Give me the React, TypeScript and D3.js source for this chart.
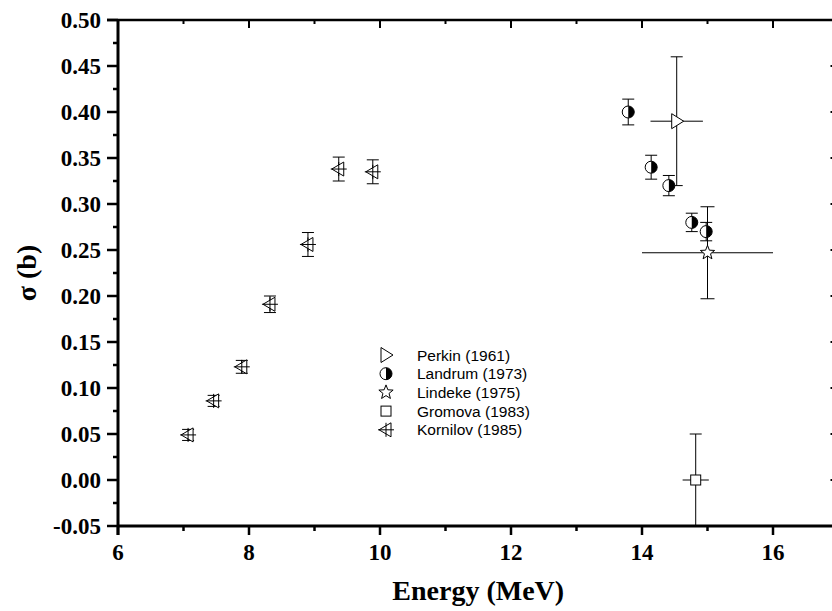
import React from "react";
import * as d3 from "d3";

const xTicks = [6, 8, 10, 12, 14, 16];
const yTicks = [-0.05, 0, 0.05, 0.1, 0.15, 0.2, 0.25, 0.3, 0.35, 0.4, 0.45, 0.5];

const kornilovE = [7.07, 7.46, 7.89, 8.32, 8.9, 9.37, 9.89];
const kornilovS = [0.049, 0.086, 0.123, 0.191, 0.256, 0.338, 0.335];
const kornilovErr = [0.006, 0.006, 0.007, 0.009, 0.013, 0.013, 0.013];

const landrumE = [13.79, 14.14, 14.41, 14.76, 14.98];
const landrumS = [0.4, 0.34, 0.32, 0.28, 0.27];
const landrumErr = [0.014, 0.013, 0.011, 0.01, 0.01];

const perkinE = [14.53];
const perkinS = [0.39];
const perkinErrE = [0.4];
const perkinErrS = [0.07];

const lindekeE = [15.0];
const lindekeS = [0.247];
const lindekeErrE = [1.0];
const lindekeErrS = [0.05];

const gromovaE = [14.82];
const gromovaS = [0.0];
const gromovaErrE = [0.2];
const gromovaErrS = [0.05];

const legendLabels = ["Perkin (1961)", "Landrum (1973)", "Lindeke (1975)", "Gromova (1983)", "Kornilov (1985)"];

const W = 832;
const H = 611;
const x = d3.scaleLinear().domain([6, 17]).range([118, 838.5]);
const y = d3.scaleLinear().domain([-0.05, 0.5]).range([526, 20]);

const serif = "'Liberation Serif', 'Times New Roman', serif";
const sans = "'Liberation Sans', Arial, sans-serif";

function starPath(cx: number, cy: number, R: number, r: number) {
  const pts: string[] = [];
  for (let i = 0; i < 10; i++) {
    const a = -Math.PI / 2 + (i * Math.PI) / 5;
    const rad = i % 2 === 0 ? R : r;
    pts.push(`${cx + rad * Math.cos(a)},${cy + rad * Math.sin(a)}`);
  }
  return "M" + pts.join("L") + "Z";
}

function Marker({ kind, cx, cy }: { kind: string; cx: number; cy: number }) {
  const st = { stroke: "#000", strokeWidth: 1, fill: "#fff" };
  if (kind === "perkin") {
    return <path d={`M${cx - 5},${cy - 7.5}L${cx + 7},${cy}L${cx - 5},${cy + 7.5}Z`} {...st} />;
  }
  if (kind === "landrum") {
    const r = 6;
    return (
      <g>
        <circle cx={cx} cy={cy} r={r} {...st} />
        <path d={`M${cx},${cy - r}A${r},${r} 0 0 1 ${cx},${cy + r}Z`} fill="#000" />
      </g>
    );
  }
  if (kind === "lindeke") {
    return <path d={starPath(cx, cy, 7.5, 3.2)} {...st} />;
  }
  if (kind === "gromova") {
    return <rect x={cx - 5} y={cy - 5} width={10} height={10} {...st} />;
  }
  // kornilov
  return (
    <g>
      <path d={`M${cx - 7},${cy}L${cx + 5},${cy - 7}L${cx + 5},${cy + 7}Z`} {...st} />
      <line x1={cx - 8} x2={cx + 8} y1={cy} y2={cy} stroke="#000" strokeWidth={1} />
      <line x1={cx} x2={cx} y1={cy - 7} y2={cy + 7} stroke="#000" strokeWidth={1} />
    </g>
  );
}

function VErr({ e, s, d, cap = 6 }: { e: number; s: number; d: number; cap?: number }) {
  const cx = x(e);
  const y1 = y(Math.min(0.5, s + d));
  const y2 = y(Math.max(-0.05, s - d));
  return (
    <g stroke="#000" strokeWidth={1}>
      <line x1={cx} x2={cx} y1={y1} y2={y2} />
      <line x1={cx - cap} x2={cx + cap} y1={y1} y2={y1} />
      {s - d > -0.05 && <line x1={cx - cap} x2={cx + cap} y1={y2} y2={y2} />}
    </g>
  );
}

function HErr({ e, s, d }: { e: number; s: number; d: number }) {
  return <line x1={x(e - d)} x2={x(e + d)} y1={y(s)} y2={y(s)} stroke="#000" strokeWidth={1} />;
}

const fmtY = (t: number) => d3.format(".2f")(t).replace("\u2212", "-");

export default function App() {
  const xMinor = d3.range(7, 17, 2);
  const yMinor = d3.range(-0.025, 0.5, 0.05);
  const left = x(6);
  const right = x(17);
  const top = y(0.5);
  const bottom = y(-0.05);
  const tickStyle = { fontFamily: serif, fontWeight: 700, fontSize: 23 } as React.CSSProperties;

  return (
    <svg width={W} height={H} style={{ position: "absolute", left: 0, top: 0, background: "#fff" }}>
      <rect x={0} y={0} width={W} height={H} fill="#fff" />
      {/* error bars */}
      {perkinE.map((e, i) => (
        <g key={"p" + i}>
          <VErr e={e} s={perkinS[i]} d={perkinErrS[i]} />
          <HErr e={e} s={perkinS[i]} d={perkinErrE[i]} />
        </g>
      ))}
      {lindekeE.map((e, i) => (
        <g key={"li" + i}>
          <VErr e={e} s={lindekeS[i]} d={lindekeErrS[i]} cap={7} />
          <HErr e={e} s={lindekeS[i]} d={lindekeErrE[i]} />
        </g>
      ))}
      {gromovaE.map((e, i) => (
        <g key={"g" + i}>
          <VErr e={e} s={gromovaS[i]} d={gromovaErrS[i]} />
          <HErr e={e} s={gromovaS[i]} d={gromovaErrE[i]} />
        </g>
      ))}
      {landrumE.map((e, i) => (
        <VErr key={"l" + i} e={e} s={landrumS[i]} d={landrumErr[i]} />
      ))}
      {kornilovE.map((e, i) => (
        <VErr key={"k" + i} e={e} s={kornilovS[i]} d={kornilovErr[i]} />
      ))}
      {/* markers */}
      {perkinE.map((e, i) => <Marker key={"pm" + i} kind="perkin" cx={x(e)} cy={y(perkinS[i])} />)}
      {lindekeE.map((e, i) => <Marker key={"lim" + i} kind="lindeke" cx={x(e)} cy={y(lindekeS[i])} />)}
      {gromovaE.map((e, i) => <Marker key={"gm" + i} kind="gromova" cx={x(e)} cy={y(gromovaS[i])} />)}
      {landrumE.map((e, i) => <Marker key={"lm" + i} kind="landrum" cx={x(e)} cy={y(landrumS[i])} />)}
      {kornilovE.map((e, i) => <Marker key={"km" + i} kind="kornilov" cx={x(e)} cy={y(kornilovS[i])} />)}

      {/* axes frame */}
      <g stroke="#000" strokeLinecap="butt">
        <line x1={left - 11} x2={right} y1={top} y2={top} strokeWidth={2.5} />
        <line x1={left} x2={left} y1={top} y2={bottom + 9} strokeWidth={3} />
        <line x1={left} x2={right} y1={bottom} y2={bottom} strokeWidth={3} />
        <line x1={right} x2={right} y1={top} y2={bottom} strokeWidth={2.5} />
        {xTicks.map((t) => (
          <g key={"xt" + t}>
            <line x1={x(t)} x2={x(t)} y1={bottom} y2={bottom + 9} strokeWidth={2.5} />
            <line x1={x(t)} x2={x(t)} y1={top} y2={top + 8} strokeWidth={2} />
          </g>
        ))}
        {xMinor.map((t) => (
          <g key={"xm" + t}>
            <line x1={x(t)} x2={x(t)} y1={bottom} y2={bottom + 5} strokeWidth={2.5} />
            <line x1={x(t)} x2={x(t)} y1={top} y2={top + 4} strokeWidth={2} />
          </g>
        ))}
        {yTicks.map((t) => (
          <g key={"yt" + t}>
            <line x1={left - 11} x2={left} y1={y(t)} y2={y(t)} strokeWidth={2.5} />
            <line x1={right - 8} x2={right} y1={y(t)} y2={y(t)} strokeWidth={2} />
          </g>
        ))}
        {yMinor.map((t) => (
          <g key={"ym" + t}>
            <line x1={left - 5} x2={left} y1={y(t)} y2={y(t)} strokeWidth={2.5} />
            <line x1={right - 4} x2={right} y1={y(t)} y2={y(t)} strokeWidth={2} />
          </g>
        ))}
      </g>

      {/* tick labels */}
      {xTicks.map((t) => (
        <text key={"xl" + t} x={x(t)} y={bottom + 34} textAnchor="middle" style={tickStyle} fill="#000">
          {t}
        </text>
      ))}
      {yTicks.map((t) => (
        <text key={"yl" + t} x={left - 17} y={y(t) + 7.5} textAnchor="end" style={tickStyle} fill="#000">
          {fmtY(t)}
        </text>
      ))}

      {/* axis titles */}
      <text
        x={(left + right) / 2}
        y={600}
        textAnchor="middle"
        style={{ fontFamily: serif, fontWeight: 700, fontSize: 28 }}
        fill="#000"
      >
        Energy (MeV)
      </text>
      <text
        transform={`translate(36,${(top + bottom) / 2}) rotate(-90)`}
        textAnchor="middle"
        style={{ fontFamily: serif, fontWeight: 700, fontSize: 28 }}
        fill="#000"
      >
        σ (b)
      </text>

      {/* legend */}
      {legendLabels.map((lab, i) => {
        const kinds = ["perkin", "landrum", "lindeke", "gromova", "kornilov"];
        const ly = 355 + i * 18.7;
        return (
          <g key={lab}>
            <Marker kind={kinds[i]} cx={386} cy={ly} />
            <text x={417} y={ly + 5.5} style={{ fontFamily: sans, fontSize: 15.5 }} fill="#000">
              {lab}
            </text>
          </g>
        );
      })}
    </svg>
  );
}
